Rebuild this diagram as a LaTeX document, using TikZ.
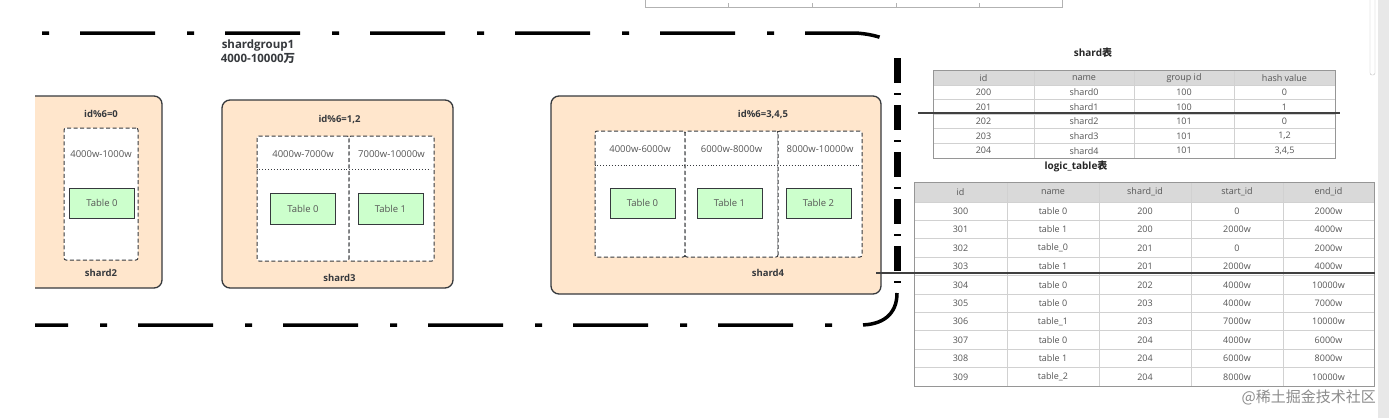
\documentclass[tikz,border=0pt]{standalone}
\usepackage{fontspec}
\setmainfont{Open Sans}
\newfontfamily\cjk{Noto Sans CJK SC}
\usetikzlibrary{positioning}
\definecolor{shardfill}{RGB}{255,230,204}
\definecolor{sharddraw}{RGB}{54,57,61}
\definecolor{tablegreen}{RGB}{204,255,204}
\definecolor{headgray}{RGB}{217,217,217}
\definecolor{gridgray}{RGB}{150,150,150}
\definecolor{textgray}{RGB}{85,85,85}

\begin{document}
\begin{tikzpicture}[
    x=1pt, y=-1pt,
    shard/.style={draw=sharddraw, fill=shardfill, line width=1.3pt, rounded corners=8pt},
    rangebox/.style={draw=sharddraw, dash pattern=on 4pt off 2.5pt, line width=1pt, fill=white, rounded corners=2pt},
    ltable/.style={draw=sharddraw, fill=tablegreen, line width=1pt, minimum width=65pt, minimum height=30pt, inner sep=0pt, font=\fontsize{9.5}{11}\selectfont, text=textgray},
    tag/.style={font=\bfseries\fontsize{9.5}{11}\selectfont, text=sharddraw, inner sep=0pt},
    rangetext/.style={font=\fontsize{9.5}{11}\selectfont, text=textgray, inner sep=0pt},
    sepline/.style={dotted, line width=0.9pt, draw=sharddraw},
    groupline/.style={line width=3.5pt, dash pattern=on 75pt off 32pt on 7pt off 31pt},
    groupside/.style={line width=7pt, dash pattern=on 25pt off 10pt on 2pt off 10pt},
    tabtitle/.style={font=\bfseries\fontsize{10}{12}\selectfont, text=black!85, inner sep=0pt},
    cell/.style={font=\fontsize{9}{10}\selectfont, text=textgray, inner sep=0pt},
    tabframe/.style={draw=gridgray, line width=1pt, inner sep=0pt},
    gridline/.style={draw=black!18, line width=0.8pt},
    link/.style={draw=black!75, line width=1.2pt}
]

    % Page and window frame
    \useasboundingbox (0,0) rectangle (1389,418);
    \fill[white] (0,0) rectangle (1389,418);
    \fill[black!9] (1378,0) rectangle (1389,418);
    \draw[black!25, fill=white, rounded corners=2pt] (1370,-3) rectangle (1375,75);
    \draw[black!30, line width=0.8pt] (645,0) -- (645,7) -- (1062,7) -- (1062,0);
    \foreach \tx in {728,812,896,979}
        \draw[black!30, line width=0.8pt] (\tx,3) -- (\tx,7);

    \begin{scope}
    \clip (35,0) rectangle (1389,418);

    % Shard group border
    \draw[groupline] (-65,33) -- (855,33) .. controls (875,34) and (892,40) .. (897,48);
    \draw[groupside] (897,58) -- (897,288);
    \draw[groupline] (-7,325) -- (860,325) .. controls (882,325) and (897,315) .. (897,293);
    \node (grouptitle) [font=\bfseries\fontsize{11.5}{14}\selectfont, text=sharddraw, align=center] at (258,52) {shardgroup1\\4000-10000{\cjk 万}};

    % shard2
    \node (shard2) [shard, minimum width=142pt, minimum height=192pt] at (91,192) {};
    \node (r2) [rangebox, minimum width=74pt, minimum height=132pt] at (101,194) {};
    \node [tag] at ([yshift=14pt]r2.north) {id\%6=0};
    \node [tag] at ([yshift=-12pt]r2.south) {shard2};
    \node [rangetext] at ([yshift=-27pt]r2.north) {4000w-1000w};
    \node (t2a) [ltable] at ([xshift=1pt,yshift=-9pt]r2.center) {Table 0};

    % shard3
    \node (shard3) [shard, minimum width=231pt, minimum height=188pt] at (337.5,194) {};
    \node (r3a) [rangebox, minimum width=92pt, minimum height=125pt] at (303,198.5) {};
    \node (r3b) [rangebox, minimum width=85pt, minimum height=125pt] at (391.5,198.5) {};
    \node [tag] at ([xshift=2pt,yshift=-20pt]shard3.north) {id\%6=1,2};
    \node [tag] at ([xshift=2pt,yshift=11pt]shard3.south) {shard3};
    \draw[sepline] ([yshift=-34pt]r3a.north west) -- ([xshift=-4pt,yshift=-34pt]r3b.north east);
    \node [rangetext] at ([yshift=-19pt]r3a.north) {4000w-7000w};
    \node [rangetext] at ([yshift=-19pt]r3b.north) {7000w-10000w};
    \node (t3a) [ltable, minimum height=31pt] at ([yshift=-10pt]r3a.center) {Table 0};
    \node (t3b) [ltable, minimum height=31pt] at ([xshift=-1pt,yshift=-10pt]r3b.center) {Table 1};

    % shard4
    \node (shard4) [shard, minimum width=330pt, minimum height=198pt] at (716,195) {};
    \node (r4a) [rangebox, minimum width=90pt, minimum height=126pt] at (640,194) {};
    \node (r4b) [rangebox, minimum width=93pt, minimum height=126pt] at (731.5,194) {};
    \node (r4c) [rangebox, minimum width=84pt, minimum height=126pt] at (820,194) {};
    \node [tag] at ([xshift=47pt,yshift=-19pt]shard4.north) {id\%6=3,4,5};
    \node [tag] at ([xshift=52pt,yshift=22pt]shard4.south) {shard4};
    \draw[sepline] ([yshift=-35pt]r4a.north west) -- ([xshift=-2pt,yshift=-35pt]r4c.north east);
    \node [rangetext] at ([yshift=-19pt]r4a.north) {4000w-6000w};
    \node [rangetext] at ([yshift=-19pt]r4b.north) {6000w-8000w};
    \node [rangetext] at ([yshift=-19pt]r4c.north) {8000w-10000w};
    \node (t4a) [ltable] at ([xshift=2.5pt,yshift=-9pt]r4a.center) {Table 0};
    \node (t4b) [ltable] at ([xshift=-2pt,yshift=-9pt]r4b.center) {Table 1};
    \node (t4c) [ltable] at ([xshift=-1.5pt,yshift=-9pt]r4c.center) {Table 2};
    \end{scope}

    % shard table
    \node (shardtitle) [tabtitle] at (1093,53) {shard{\cjk 表}};
    \fill[headgray] (933,70) rectangle (1335,85);
    \foreach \gy in {85,99.6,114.2,128.8,143.4}
        \draw[gridline] (933,\gy) -- (1335,\gy);
    \foreach \gx in {1034,1134,1234}
        \draw[gridline] (\gx,70) -- (\gx,158);
    \node (shardtab) [tabframe, minimum width=402pt, minimum height=88pt, anchor=north west] at (933,70) {};
    \foreach \a/\b/\c/\d [count=\i from 0] in {id/name/group id/hash value, 200/shard0/100/0, 201/shard1/100/1, 202/shard2/101/0, 203/shard3/101/{1,2}, 204/shard4/101/{3,4,5}} {
        \node (s\i-a) [cell] at (983.5,77.7+14.6*\i) {\a};
        \node (s\i-b) [cell] at (1084,77.7+14.6*\i) {\b};
        \node (s\i-c) [cell] at (1184,77.7+14.6*\i) {\c};
        \node (s\i-d) [cell] at (1284.5,77.7+14.6*\i) {\d};
    }

    % logic_table table
    \node (logictitle) [tabtitle] at (1076,166) {logic\_table{\cjk 表}};
    \fill[headgray] (914,182) rectangle (1374,202);
    \foreach \gy in {202,220.4,...,370}
        \draw[gridline] (914,\gy) -- (1374,\gy);
    \foreach \gx in {1007,1099,1191,1283}
        \draw[gridline] (\gx,182) -- (\gx,386);
    \node (logictab) [tabframe, minimum width=460pt, minimum height=204pt, anchor=north west] at (914,182) {};
    \foreach \h/\cx [count=\j] in {id/960.5, name/1053, shard\_id/1145, start\_id/1237, end\_id/1328.5}
        \node (lh\j) [cell] at (\cx,192) {\h};
    \foreach \a/\b/\c/\d/\e [count=\i] in {300/table 0/200/0/2000w, 301/table 1/200/2000w/4000w, 302/table\_0/201/0/2000w, 303/table 1/201/2000w/4000w, 304/table 0/202/4000w/10000w, 305/table 0/203/4000w/7000w, 306/table\_1/203/7000w/10000w, 307/table 0/204/4000w/6000w, 308/table 1/204/6000w/8000w, 309/table\_2/204/8000w/10000w} {
        \node (l\i-a) [cell] at (960.5,192.8+18.4*\i) {\a};
        \node (l\i-b) [cell] at (1053,192.8+18.4*\i) {\b};
        \node (l\i-c) [cell] at (1145,192.8+18.4*\i) {\c};
        \node (l\i-d) [cell] at (1237,192.8+18.4*\i) {\d};
        \node (l\i-e) [cell] at (1328.5,192.8+18.4*\i) {\e};
    }

    % Links across the tables
    \coordinate (linkA) at (918,113);
    \coordinate (linkB) at (1340,113);
    \coordinate (linkC) at (876,273);
    \coordinate (linkD) at (1375,273);
    \draw[link] (linkA) -- (linkB);
    \draw[link] (linkC) -- (linkD);

    % Watermark
    \node (mark) [anchor=east, text=black!45, font=\cjk\fontsize{15}{16}\selectfont, inner sep=0pt] at (1376,397) {@稀土掘金技术社区};

\end{tikzpicture}
\end{document}
